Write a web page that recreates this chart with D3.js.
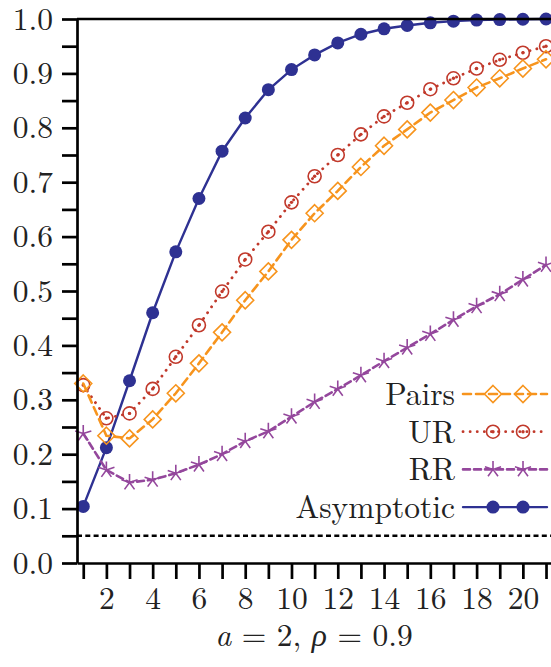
<!DOCTYPE html>
<html>
<head>
<meta charset="utf-8">
<script src="https://cdn.jsdelivr.net/npm/d3@7"></script>
<style>
  html, body { margin: 0; padding: 0; background: #fff; }
  svg { display: block; }
</style>
</head>
<body>
<div id="chart"></div>
<script>
// Sample sizes (x) and rejection rates of the four procedures
const nValues = d3.range(1, 22);
const pairs = [0.330, 0.234, 0.229, 0.264, 0.312, 0.367, 0.424, 0.483, 0.536, 0.594, 0.643,
               0.684, 0.728, 0.767, 0.797, 0.828, 0.851, 0.874, 0.891, 0.909, 0.926];
const ur = [0.327, 0.266, 0.275, 0.320, 0.379, 0.437, 0.499, 0.558, 0.609, 0.663, 0.711,
            0.750, 0.788, 0.821, 0.846, 0.871, 0.891, 0.909, 0.925, 0.938, 0.950];
const rr = [0.238, 0.171, 0.148, 0.153, 0.165, 0.181, 0.200, 0.224, 0.242, 0.269, 0.296,
            0.320, 0.345, 0.371, 0.396, 0.421, 0.447, 0.472, 0.494, 0.521, 0.548];
const asymptotic = [0.104, 0.212, 0.335, 0.460, 0.572, 0.670, 0.757, 0.818, 0.870, 0.907, 0.934,
                    0.956, 0.972, 0.982, 0.988, 0.993, 0.996, 0.998, 0.999, 0.9995, 1.000];
const nominalLevel = 0.05;
const yTicks = d3.range(0, 1.0001, 0.05).map(v => +v.toFixed(2));
const xTicks = d3.range(1, 22);
const seriesNames = ["Pairs", "UR", "RR", "Asymptotic"];

const FONT = "'Latin Modern Roman', 'CMU Serif', 'Liberation Serif', serif";
const FONT_SIZE = "31.5px";
const INK = "#222";

const W = 551, H = 667;
const svg = d3.select("#chart").append("svg").attr("width", W).attr("height", H);

const x = d3.scaleLinear().domain([0.73, 21.25]).range([77, 551.8]);
const y = d3.scaleLinear().domain([0, 1]).range([563, 19]);

const styles = {
  Pairs:      { values: pairs,      color: "#f7941d", width: 2.6, dash: "8,5",  marker: "diamond" },
  UR:         { values: ur,         color: "#c1392b", width: 2.8, dash: "0.1,7", marker: "odot" },
  RR:         { values: rr,         color: "#94479c", width: 2.6, dash: "7,4",  marker: "star" },
  Asymptotic: { values: asymptotic, color: "#2e3192", width: 2.4, dash: null,   marker: "disc" }
};

// Reference line at the nominal level
svg.append("line")
  .attr("x1", x.range()[0]).attr("x2", W)
  .attr("y1", y(nominalLevel)).attr("y2", y(nominalLevel))
  .attr("stroke", "#000").attr("stroke-width", 2.5).attr("stroke-dasharray", "5,3.3");

// Five-armed star: radial strokes from the centre
const starArms = d3.range(5).map(k => {
  const a = -Math.PI / 2 + k * 2 * Math.PI / 5;
  return `M0,0L${(8.5 * Math.cos(a)).toFixed(2)},${(8.5 * Math.sin(a)).toFixed(2)}`;
}).join("");

function drawMarker(g, kind, color) {
  if (kind === "diamond") {
    g.append("path").attr("d", "M0,-8.5L8.5,0L0,8.5L-8.5,0Z")
      .attr("fill", "none").attr("stroke", color).attr("stroke-width", 1.6);
  } else if (kind === "odot") {
    g.append("circle").attr("r", 6.5).attr("fill", "none").attr("stroke", color).attr("stroke-width", 1.6);
    g.append("circle").attr("r", 1.7).attr("fill", color);
  } else if (kind === "star") {
    g.append("path").attr("d", starArms)
      .attr("fill", "none").attr("stroke", color).attr("stroke-width", 1.6);
  } else {
    g.append("circle").attr("r", 6.5).attr("fill", color);
  }
}

const line = d3.line().x((d, i) => x(nValues[i])).y(d => y(d));

const plot = svg.append("g");
seriesNames.slice().reverse().forEach(name => {
  const s = styles[name];
  const grp = plot.append("g");
  grp.append("path").datum(s.values).attr("d", line)
    .attr("fill", "none").attr("stroke", s.color).attr("stroke-width", s.width)
    .attr("stroke-linecap", "round")
    .attr("stroke-dasharray", s.dash);
  s.values.forEach((v, i) => {
    const m = grp.append("g").attr("transform", `translate(${x(nValues[i])},${y(v)})`);
    drawMarker(m, s.marker, s.color);
  });
});

// Axes
const yAxis = d3.axisLeft(y).tickValues(yTicks).tickSize(15).tickPadding(9).tickSizeOuter(0)
  .tickFormat(d => Math.round(d * 100) % 10 === 0 ? d3.format(".1f")(d) : "");
const gy = svg.append("g").attr("transform", `translate(${x.range()[0]},0)`).call(yAxis);

const xAxis = d3.axisBottom(x).tickValues(xTicks).tickSize(16).tickPadding(8).tickSizeOuter(0)
  .tickFormat(d => d % 2 === 0 ? d : "");
const gx = svg.append("g").attr("transform", `translate(0,${y.range()[0]})`).call(xAxis);

[gx, gy].forEach(g => {
  g.attr("font-family", null).attr("font-size", null);
  g.selectAll("path.domain").attr("stroke", "#000").attr("stroke-width", 2.7);
  g.selectAll(".tick line").attr("stroke", "#000").attr("stroke-width", 2.7);
  g.selectAll(".tick text").filter(function () { return this.textContent === ""; }).remove();
  g.selectAll(".tick text").style("font-family", FONT)
    .style("font-size", FONT_SIZE).attr("fill", INK);
});

// Top spine
svg.append("line").attr("x1", x.range()[0]).attr("x2", W)
  .attr("y1", y(1)).attr("y2", y(1)).attr("stroke", "#000").attr("stroke-width", 2.7);

// Axis label
const title = svg.append("text").attr("x", (x.range()[0] + W) / 2).attr("y", 646)
  .attr("text-anchor", "middle").style("font-family", FONT).style("font-size", FONT_SIZE)
  .attr("fill", INK);
title.append("tspan").style("font-style", "italic").text("a");
title.append("tspan").text(" = 2, ");
title.append("tspan").style("font-style", "italic").text("ρ");
title.append("tspan").text(" = 0.9");

// Legend
const legend = svg.append("g");
seriesNames.forEach((name, i) => {
  const s = styles[name];
  const ry = 394 + i * 37.7;
  legend.append("text").attr("x", 455).attr("y", ry + 11).attr("text-anchor", "end")
    .style("font-family", FONT).style("font-size", FONT_SIZE).attr("fill", INK).text(name);
  legend.append("line").attr("x1", 463).attr("x2", 547).attr("y1", ry).attr("y2", ry)
    .attr("stroke", s.color).attr("stroke-width", s.width).attr("stroke-linecap", "round")
    .attr("stroke-dasharray", s.dash);
  [493, 523].forEach(mx => {
    const m = legend.append("g").attr("transform", `translate(${mx},${ry})`);
    drawMarker(m, s.marker, s.color);
  });
});
</script>
</body>
</html>
